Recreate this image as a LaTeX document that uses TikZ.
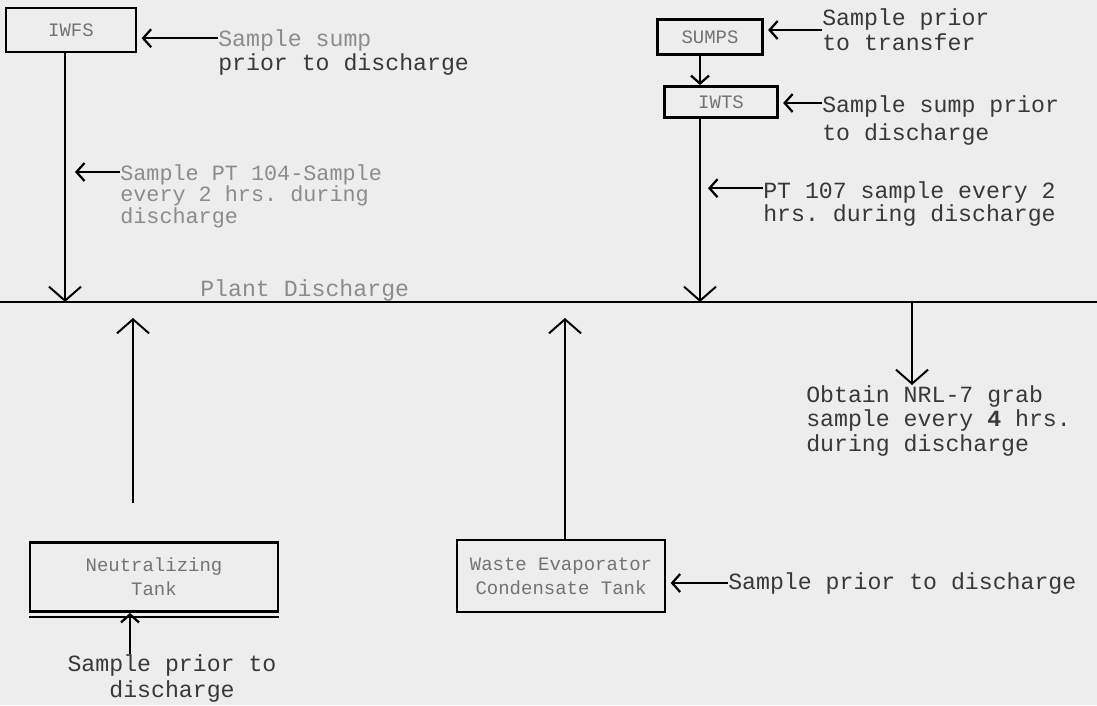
\documentclass[tikz,border=0pt]{standalone}
\usepackage{fontspec}
\setmonofont{Liberation Mono}
\usetikzlibrary{arrows.meta,positioning,calc}

\tikzset{
  tank/.style={draw, line width=2pt, align=center, inner sep=0pt,
    font=\ttfamily\fontsize{13.5}{17}\selectfont, text=black!55},
  note/.style={inner sep=0pt, align=left, text=black!78,
    font=\ttfamily\fontsize{16.5}{18}\selectfont},
  faint/.style={note, text=black!45},
  tip/.style={-{Straight Barb[length=2mm,width=4.5mm]}, line width=1.6pt, shorten >=3pt},
  flow/.style={-{Straight Barb[length=3.5mm,width=8mm]}, line width=1.4pt},
}

\begin{document}
\begin{tikzpicture}[x=0.025cm, y=-0.025cm]
    \fill[black!7] (0,0) rectangle (1097,705);
    \useasboundingbox (0,0) rectangle (1097,705);

    % plant discharge line
    \coordinate (pdL) at (0,302);
    \coordinate (pdR) at (1097,302);
    \coordinate (pdUp) at (0,318);
    \draw[line width=1.5pt] (pdL) -- (pdR);
    \node[faint, anchor=base west] (plant) at (200,296) {Plant Discharge};

    % left branch
    \node[tank, minimum width=3.25cm, minimum height=1.1cm] (iwfs) at (71,30) {IWFS};
    \node[faint, anchor=north west, font=\ttfamily\fontsize{16.5}{17}\selectfont] (iwfsNote) at (218,29)
        {Sample sump\\\textcolor{black!78}{prior to discharge}};
    \draw[tip] ([yshift=-0.23cm]iwfsNote.north west) -- ([yshift=-0.23cm]iwfsNote.north west -| iwfs.east);
    \coordinate (iwfsOut) at ($(iwfs.south)+(-6,0)$);
    \draw[flow] (iwfsOut) -- (iwfsOut |- pdL);
    \node[faint, anchor=north west, font=\ttfamily\fontsize{15.5}{15.5}\selectfont] (pt104) at (120,164)
        {Sample PT 104-Sample\\every 2 hrs. during\\discharge};
    \draw[tip, shorten >=0.25cm] ([yshift=-0.2cm]pt104.north west) -- ([yshift=-0.2cm]pt104.north west -| iwfsOut);

    % right branch
    \node[tank, minimum width=2.625cm, minimum height=0.875cm] (sumps) at (710,37) {SUMPS};
    \node[tank, minimum width=2.825cm, minimum height=0.775cm] (iwts) at (721,102) {IWTS};
    \node[note, anchor=west] (sumpsNote) at (822,30) {Sample prior\\to transfer};
    \draw[tip] (sumpsNote.west) -- (sumpsNote.west -| sumps.east);
    \coordinate (sumpsOut) at ($(sumps.south)+(-10,0)$);
    \draw[tip, shorten >=0pt] (sumpsOut) -- (sumpsOut |- iwts.north);
    \node[note, anchor=north west, font=\ttfamily\fontsize{16.5}{20.5}\selectfont] (iwtsNote) at (822,95)
        {Sample sump prior\\to discharge};
    \draw[tip] ([yshift=-0.2cm]iwtsNote.north west) -- ([yshift=-0.2cm]iwtsNote.north west -| iwts.east);
    \coordinate (iwtsOut) at ($(iwts.south)+(-21,0)$);
    \draw[flow] (iwtsOut) -- (iwtsOut |- pdL);
    \node[note, anchor=north west, font=\ttfamily\fontsize{16.5}{16.5}\selectfont] (pt107) at (763,181)
        {PT 107 sample every 2\\hrs. during discharge};
    \draw[tip, shorten >=0.2cm] ([yshift=-0.18cm]pt107.north west) -- ([yshift=-0.18cm]pt107.north west -| iwtsOut);

    % grab sample
    \coordinate (grab) at (912,302);
    \node[note, anchor=north west, font=\ttfamily\fontsize{16.5}{17.7}\selectfont] (grabNote) at (806,385)
        {Obtain NRL-7 grab\\sample every \textbf{4} hrs.\\during discharge};
    \draw[flow] (grab) -- (grab |- grabNote.north);

    % tanks below
    \node[tank, minimum width=6.2cm, minimum height=1.725cm] (neut) at (154,577) {Neutralizing\\Tank};
    \draw[line width=1.2pt] ($(neut.south west)+(0,4)$) -- ($(neut.south east)+(0,4)$);
    \coordinate (neutUp) at ($(neut.north)+(-21,-38)$);
    \draw[flow] (neutUp) -- (neutUp |- pdUp);
    \coordinate (neutIn) at (130,0);
    \node[note, anchor=north, align=center, font=\ttfamily\fontsize{16.5}{19}\selectfont] (neutNote) at (172,654)
        {Sample prior to\\discharge};
    \draw[tip, shorten >=0pt] (neutNote.north -| neutIn) -- (neut.south -| neutIn);

    \node[tank, minimum width=5.2cm, minimum height=1.8cm] (wect) at (561,576) {Waste Evaporator\\Condensate Tank};
    \coordinate (wectUp) at ($(wect.north)+(4,0)$);
    \draw[flow] (wectUp) -- (wectUp |- pdUp);
    \node[note, anchor=west] (wectNote) at (728,583) {Sample prior to discharge};
    \draw[tip] (wectNote.west) -- (wectNote.west -| wect.east);
\end{tikzpicture}
\end{document}
